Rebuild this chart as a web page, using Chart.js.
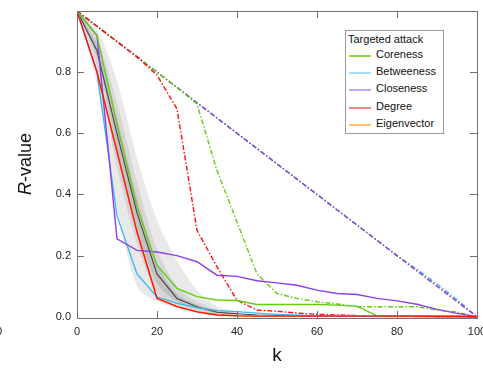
<!DOCTYPE html>
<html lang="en">
<head>
<meta charset="utf-8" />
<title>R-value vs k</title>
<script src="https://cdn.jsdelivr.net/npm/chart.js@4.4.1/dist/chart.umd.min.js"></script>
<style>
  * { box-sizing: border-box; }
  body { margin: 0; background: #fff; font-family: "Liberation Sans", Arial, sans-serif; }
  .wrap { position: relative; width: 483px; height: 370px; overflow: hidden; }
  canvas { position: absolute; left: 0; top: 0; }
  .ytitle {
    position: absolute; left: 25px; top: 164px;
    transform: translate(-50%, -50%) rotate(-90deg);
    font-size: 18px; color: #111; white-space: nowrap;
  }
  .xtitle { position: absolute; left: 277px; top: 355px; transform: translate(-50%, -50%); font-size: 19px; color: #111; }
  .stray { position: absolute; left: -4px; top: 325px; font-size: 11px; color: #222; }
  .legend {
    position: absolute; left: 345px; top: 30px; width: 99px; height: 104px;
    border: 1px solid #9a9a9a; background: #fff; font-size: 11px; color: #111;
  }
  .legend .ttl { position: absolute; left: 2px; top: 2px; white-space: nowrap; }
  .legend .row { position: absolute; left: 3px; height: 14px; white-space: nowrap; }
  .legend .row i { position: absolute; left: 0; top: 7px; width: 22px; height: 2px; }
  .legend .row span { position: absolute; left: 27px; top: 0; }
</style>
</head>
<body>
<div class="wrap">
  <canvas id="chart" width="483" height="370"></canvas>
  <div class="ytitle"><i>R</i>-value</div>
  <div class="xtitle">k</div>
  <div class="stray">0</div>
  <div class="legend" id="legend"><div class="ttl">Targeted attack</div></div>
</div>
<script>
// k values (percent of nodes removed)
const kValues = [0, 5, 10, 15, 20, 25, 30, 35, 40, 45, 50, 55, 60, 65, 70, 75, 80, 85, 90, 95, 100];

// solid lines
const coreness = [1, 0.92, 0.63, 0.36, 0.168, 0.093, 0.066, 0.055, 0.053, 0.04, 0.04, 0.04, 0.04, 0.038, 0.035, 0.003, 0.003, 0.003, 0.003, 0.002, 0];
const betweenness = [1, 0.8, 0.33, 0.14, 0.065, 0.044, 0.03, 0.02, 0.017, 0.012, 0.008, 0.005, 0.003, 0.002, 0.002, 0.001, 0.001, 0.001, 0.001, 0.001, 0];
const closeness = [1, 0.92, 0.255, 0.217, 0.212, 0.2, 0.18, 0.136, 0.132, 0.118, 0.111, 0.103, 0.087, 0.076, 0.073, 0.06, 0.052, 0.041, 0.024, 0.011, 0];
const degree = [1, 0.8, 0.54, 0.277, 0.06, 0.033, 0.016, 0.006, 0.003, 0.002, 0.002, 0.002, 0.002, 0.002, 0.002, 0.002, 0.002, 0.002, 0.001, 0.001, 0];
const eigenvector = [1, 0.8, 0.54, 0.28, 0.062, 0.034, 0.017, 0.007, 0.004, 0.003, 0.002, 0.002, 0.002, 0.002, 0.002, 0.002, 0.002, 0.002, 0.001, 0.001, 0];
const randomMean = [1, 0.87, 0.6, 0.34, 0.14, 0.06, 0.033, 0.015, 0.01, 0.006, 0.004, 0.003, 0.002, 0.002, 0.001, 0.001, 0.001, 0.001, 0.001, 0.001, 0];

// dash-dot lines
const corenessAlt = [1, 0.95, 0.9, 0.85, 0.8, 0.75, 0.696, 0.478, 0.31, 0.14, 0.076, 0.06, 0.049, 0.042, 0.033, 0.033, 0.033, 0.033, 0.022, 0.015, 0];
const degreeAlt = [1, 0.95, 0.9, 0.85, 0.79, 0.68, 0.283, 0.163, 0.054, 0.022, 0.018, 0.012, 0.008, 0.006, 0.004, 0.002, 0.002, 0.001, 0.001, 0.001, 0];
const closenessAlt = [1, 0.95, 0.9, 0.85, 0.8, 0.75, 0.7, 0.65, 0.6, 0.55, 0.5, 0.45, 0.4, 0.35, 0.3, 0.25, 0.2, 0.15, 0.1, 0.05, 0];
const betweennessAlt = [1, 0.95, 0.9, 0.85, 0.8, 0.75, 0.7, 0.65, 0.6, 0.55, 0.5, 0.45, 0.4, 0.35, 0.3, 0.25, 0.2, 0.155, 0.107, 0.056, 0];
const eigenvectorAlt = [1, 0.95, 0.9, 0.85, 0.8, 0.75, 0.7, 0.65, 0.6, 0.55, 0.5, 0.45, 0.4, 0.35, 0.3, 0.25, 0.2, 0.15, 0.1, 0.05, 0];

// random-removal spread bands (k = 0..40)
const bandK = [0, 5, 10, 15, 20, 25, 30, 35, 40];
const outerUpper = [1, 0.94, 0.77, 0.52, 0.315, 0.185, 0.087, 0.035, 0.015];
const outerLower = [1, 0.76, 0.36, 0.1, 0.05, 0.028, 0.012, 0.004, 0];
const midUpper = [1, 0.91, 0.7, 0.44, 0.22, 0.1, 0.05, 0.025, 0.012];
const midLower = [1, 0.82, 0.49, 0.24, 0.08, 0.04, 0.02, 0.008, 0.004];
const innerUpper = [1, 0.89, 0.65, 0.39, 0.175, 0.075, 0.04, 0.02, 0.01];
const innerLower = [1, 0.85, 0.55, 0.29, 0.11, 0.05, 0.027, 0.012, 0.007];

const xTicks = [0, 20, 40, 60, 80, 100];
const yTicks = [0, 0.2, 0.4, 0.6, 0.8, 1.0];

const legendItems = [
  { label: "Coreness", color: "#8cd94a" },
  { label: "Betweeness", color: "#a9dcf7" },
  { label: "Closeness", color: "#c8a6f2" },
  { label: "Degree", color: "#f28a8a" },
  { label: "Eigenvector", color: "#ffc463" },
];

const pts = (xs, ys) => ys.map((y, i) => ({ x: xs[i], y }));

function line(data, color, dashed, order, width) {
  return {
    data: pts(kValues, data),
    borderColor: color,
    borderWidth: width || 1.4,
    borderDash: dashed ? [5, 2, 1.5, 2] : [],
    pointRadius: 0,
    fill: false,
    tension: 0,
    order,
  };
}

function band(data, color, fillTarget, order) {
  return {
    data: pts(bandK, data),
    borderWidth: 0,
    borderColor: "rgba(0,0,0,0)",
    backgroundColor: color,
    pointRadius: 0,
    fill: fillTarget,
    tension: 0.3,
    order,
  };
}

const datasets = [
  band(outerUpper, "#e9e9e9", "+1", 30),
  band(outerLower, "#e9e9e9", false, 30),
  band(midUpper, "#d6d6d6", "+1", 29),
  band(midLower, "#d6d6d6", false, 29),
  band(innerUpper, "#c2c2c2", "+1", 28),
  band(innerLower, "#c2c2c2", false, 28),
  line(randomMean, "#444444", false, 20, 1.1),
  line(eigenvectorAlt, "#ffb030", true, 19),
  line(betweennessAlt, "#3cb8f0", true, 18),
  line(closenessAlt, "#8e3fe8", true, 17),
  line(corenessAlt, "#66cc11", true, 16),
  line(degreeAlt, "#ff1010", true, 15),
  line(eigenvector, "#ffb030", false, 14),
  line(betweenness, "#3cb8f0", false, 13),
  line(closeness, "#8e3fe8", false, 12),
  line(coreness, "#66cc11", false, 11),
  line(degree, "#ff1010", false, 10),
];

const frame = {
  id: "frame",
  afterDatasetsDraw(chart) {
    const { ctx, chartArea: a, scales } = chart;
    ctx.save();
    ctx.strokeStyle = "#707070";
    ctx.lineWidth = 1;
    ctx.strokeRect(Math.round(a.left) + 0.5, Math.round(a.top) + 0.5, Math.round(a.right - a.left), Math.round(a.bottom - a.top));
    const t = 7;
    ctx.beginPath();
    xTicks.slice(1, -1).forEach((v) => {
      const x = Math.round(scales.x.getPixelForValue(v)) + 0.5;
      ctx.moveTo(x, a.bottom); ctx.lineTo(x, a.bottom - t);
      ctx.moveTo(x, a.top); ctx.lineTo(x, a.top + t);
    });
    yTicks.slice(1, -1).forEach((v) => {
      const y = Math.round(scales.y.getPixelForValue(v)) + 0.5;
      ctx.moveTo(a.left, y); ctx.lineTo(a.left + t, y);
      ctx.moveTo(a.right, y); ctx.lineTo(a.right - t, y);
    });
    ctx.stroke();
    ctx.restore();
  },
};

new Chart(document.getElementById("chart"), {
  type: "line",
  data: { datasets },
  plugins: [frame],
  options: {
    responsive: false,
    animation: false,
    events: [],
    layout: { padding: { left: 0, top: 11, right: 6, bottom: 0 } },
    plugins: { legend: { display: false }, tooltip: { enabled: false } },
    scales: {
      x: {
        type: "linear",
        min: 0,
        max: 100,
        afterBuildTicks(axis) { axis.ticks = xTicks.map((v) => ({ value: v })); },
        afterFit(axis) { axis.height = 52; axis.paddingLeft = 0; axis.paddingRight = 0; },
        grid: { display: false, drawTicks: false },
        border: { display: false },
        ticks: { padding: 7, color: "#222", font: { family: "Liberation Sans", size: 11 }, maxRotation: 0 },
      },
      y: {
        type: "linear",
        min: -0.004,
        max: 1.0,
        afterBuildTicks(axis) { axis.ticks = yTicks.map((v) => ({ value: v })); },
        afterFit(axis) { axis.width = 77; axis.paddingTop = 0; axis.paddingBottom = 0; },
        grid: { display: false, drawTicks: false },
        border: { display: false },
        ticks: {
          padding: 6,
          color: "#222",
          font: { family: "Liberation Sans", size: 11 },
          callback: (v) => (v >= 1 ? "" : v.toFixed(1)),
        },
      },
    },
  },
});

const legendEl = document.getElementById("legend");
legendItems.forEach((item, i) => {
  const row = document.createElement("div");
  row.className = "row";
  row.style.top = 17 + i * 17.2 + "px";
  row.innerHTML = `<i style="background:${item.color}"></i><span>${item.label}</span>`;
  legendEl.appendChild(row);
});
</script>
</body>
</html>
